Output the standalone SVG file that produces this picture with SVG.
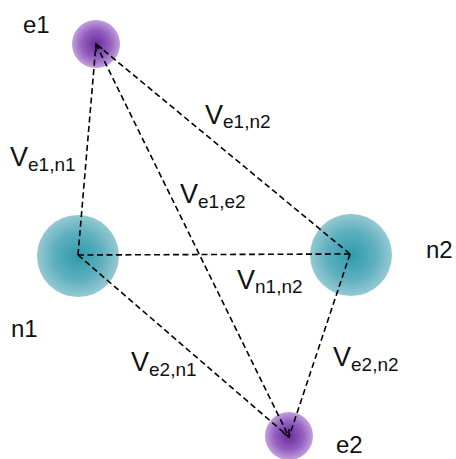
<svg xmlns="http://www.w3.org/2000/svg" width="456" height="459" viewBox="0 0 456 459">
<style>
.lbl{font-family:"Liberation Sans","Open Sans",sans-serif;fill:#111}
.v{font-size:27px}
.s{font-size:19px}
.n{font-size:24px}
.edge{stroke:#000;stroke-width:1.6;stroke-dasharray:6 3.5;fill:none}
</style>
<defs>
<radialGradient id="gn" cx="50%" cy="50%" r="50%">
<stop offset="0" stop-color="#2f9aac"/>
<stop offset="0.6" stop-color="#5fb0bf"/>
<stop offset="1" stop-color="#95c9d2"/>
</radialGradient>
<radialGradient id="ge" cx="50%" cy="50%" r="50%">
<stop offset="0" stop-color="#6a2a9e"/>
<stop offset="0.6" stop-color="#9460c0"/>
<stop offset="1" stop-color="#c2a0dc"/>
</radialGradient>
<marker id="ar" viewBox="0 0 10 10" refX="9" refY="5" markerWidth="9" markerHeight="9" markerUnits="userSpaceOnUse" orient="auto-start-reverse">
<path d="M1,1 L9,5 L1,9" fill="none" stroke="#000" stroke-width="1.6"/>
</marker>
</defs>
<g id="n1"><circle cx="78" cy="256" r="41" fill="url(#gn)"/><text class="lbl n" x="11" y="337">n1</text></g>
<g id="n2"><circle cx="351" cy="255" r="41" fill="url(#gn)"/><text class="lbl n" x="426" y="258">n2</text></g>
<g id="e1"><circle cx="96" cy="44" r="24" fill="url(#ge)"/><text class="lbl n" x="23" y="33">e1</text></g>
<g id="e2"><circle cx="289" cy="436" r="24" fill="url(#ge)"/><text class="lbl n" x="336" y="453">e2</text></g>
<g id="connectors">
<line class="edge" x1="78" y1="255" x2="96" y2="44"/>
<line class="edge" x1="350" y1="254" x2="96" y2="44"/>
<line class="edge" x1="96" y1="44" x2="289" y2="437" marker-start="url(#ar)" marker-end="url(#ar)"/>
<line class="edge" x1="78" y1="255" x2="350" y2="254"/>
<line class="edge" x1="78" y1="255" x2="289" y2="437"/>
<line class="edge" x1="350" y1="254" x2="289" y2="437"/>
</g>
<g id="labels">
<text class="lbl" x="10" y="166"><tspan class="v">V</tspan><tspan class="s" dy="5">e1,n1</tspan></text>
<text class="lbl" x="205" y="124"><tspan class="v">V</tspan><tspan class="s" dy="4">e1,n2</tspan></text>
<text class="lbl" x="180" y="203"><tspan class="v">V</tspan><tspan class="s" dy="5">e1,e2</tspan></text>
<text class="lbl" x="237" y="289"><tspan class="v">V</tspan><tspan class="s" dy="4">n1,n2</tspan></text>
<text class="lbl" x="131" y="371"><tspan class="v">V</tspan><tspan class="s" dy="5">e2,n1</tspan></text>
<text class="lbl" x="333" y="366"><tspan class="v">V</tspan><tspan class="s" dy="5">e2,n2</tspan></text>
</g>
</svg>
